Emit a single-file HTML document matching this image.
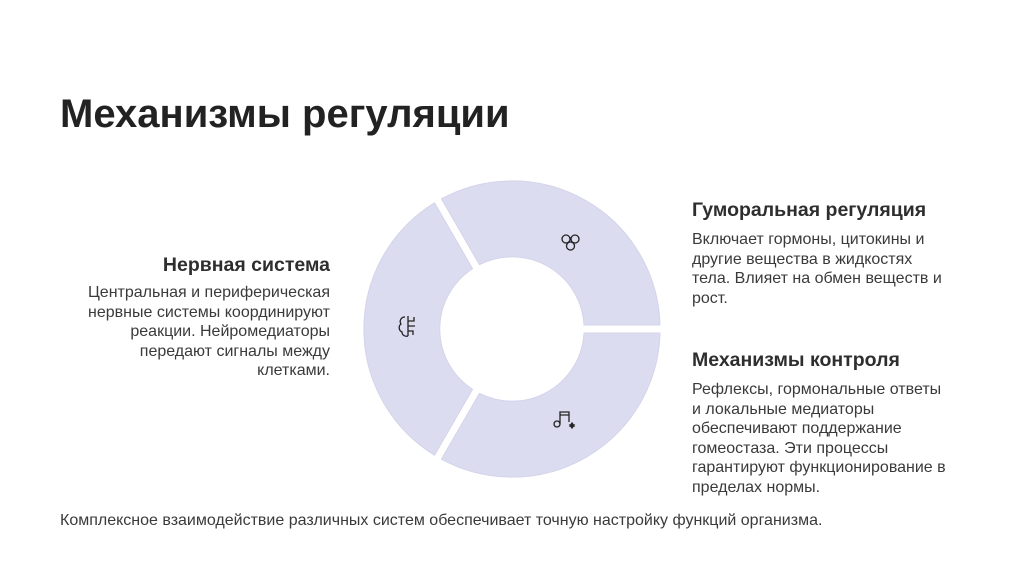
<!DOCTYPE html>
<html><head><meta charset="utf-8"><style>
body{margin:0;width:1024px;height:574px;background:#fff;position:relative;overflow:hidden;font-family:"Liberation Sans",sans-serif;color:#333}
.a{position:absolute}
h1{position:absolute;margin:0;left:60px;top:91px;font-size:40px;line-height:46px;font-weight:bold;color:#222}
.h{font-size:19.5px;line-height:22px;font-weight:bold;color:#2e2e2e}
.b{font-size:16px;line-height:19.5px;color:#3a3a3a}
</style></head><body>
<h1>Механизмы регуляции</h1>
<svg class="a" style="left:0;top:0" width="1024" height="574">
<g id="segs"></g>
<g fill="none" stroke="#222" stroke-width="1.3">
 <g><circle cx="566" cy="239" r="4"/><circle cx="575" cy="239" r="4"/><circle cx="570.5" cy="246" r="4"/></g>
 <g><path d="M405 317c-4 0-6 4-4 7-3 2-2 7 1 8 0 3 3 5 6 4"/><path d="M408 316v20M408 321h6v-4M408 326h7M408 331h5v4"/></g>
 <g><circle cx="557" cy="424" r="3"/><path d="M560 424v-12h9v10M560 415h9"/><path d="M572 423l2 3h-4zM572 428l2-3h-4z"/></g>
</g>
</svg>
<div class="a h" style="left:692px;top:199px">Гуморальная регуляция</div>
<div class="a b" style="left:692px;top:230px;width:290px">Включает гормоны, цитокины и<br>другие вещества в жидкостях<br>тела. Влияет на обмен веществ и<br>рост.</div>
<div class="a h" style="left:692px;top:349px">Механизмы контроля</div>
<div class="a b" style="left:692px;top:380px;width:300px">Рефлексы, гормональные ответы<br>и локальные медиаторы<br>обеспечивают поддержание<br>гомеостаза. Эти процессы<br>гарантируют функционирование в<br>пределах нормы.</div>
<div class="a h" style="right:694px;top:254px;text-align:right;white-space:nowrap">Нервная система</div>
<div class="a b" style="right:694px;top:283px;text-align:right;width:320px">Центральная и периферическая<br>нервные системы координируют<br>реакции. Нейромедиаторы<br>передают сигналы между<br>клетками.</div>
<div class="a b" style="left:60px;top:511px;white-space:nowrap">Комплексное взаимодействие различных систем обеспечивает точную настройку функций организма.</div>
<script>
const segmentNames=["humoral","nervous","control"];
const segmentValues=[1,1,1];
const g=document.getElementById('segs');
const cx=512,cy=329,R=148,r=72,gap=4;
const tot=segmentValues.reduce((a,b)=>a+b,0);
let start=0;
function pt(rad,deg,off){const a=deg*Math.PI/180;return [cx+rad*Math.cos(a)+off*Math.sin(a),cy-rad*Math.sin(a)+off*Math.cos(a)];}
segmentValues.forEach((v,i)=>{
 const end=start+v/tot*360;
 const p1=pt(R,start,-gap),p2=pt(R,end,gap),p3=pt(r,end,gap),p4=pt(r,start,-gap);
 const large=(end-start)>180?1:0;
 const d=`M${p1}A${R},${R} 0 ${large} 0 ${p2}L${p3}A${r},${r} 0 ${large} 1 ${p4}Z`;
 const p=document.createElementNS('http://www.w3.org/2000/svg','path');
 p.setAttribute('d',d);p.setAttribute('fill','#dcdcf0');p.setAttribute('stroke','#d4d4ea');p.setAttribute('stroke-linejoin','round');
 
 
 g.appendChild(p);
 start=end;
});
</script>
</body></html>
